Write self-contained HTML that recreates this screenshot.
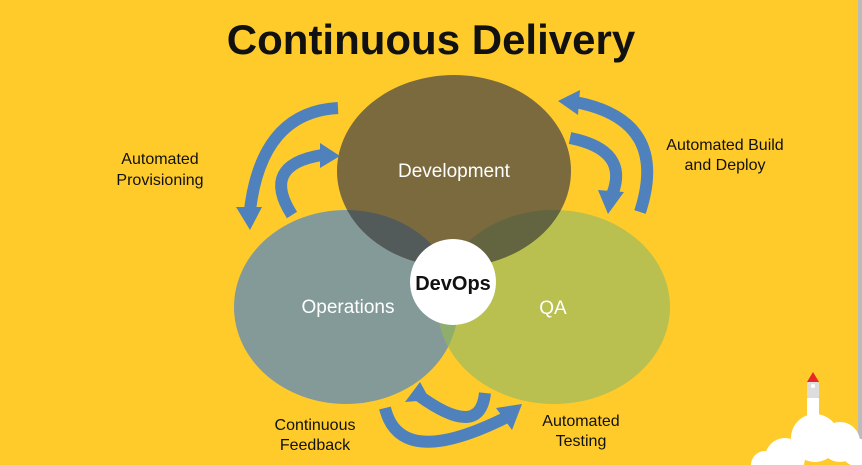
<!DOCTYPE html>
<html><head><meta charset="utf-8"><style>
html,body{margin:0;padding:0;}
body{width:862px;height:465px;overflow:hidden;background:#FFCB2B;position:relative;font-family:"Liberation Sans",sans-serif;}
</style></head><body>
<svg width="862" height="465" viewBox="0 0 862 465" style="position:absolute;left:0;top:0">
<defs>
<clipPath id="cO"><ellipse cx="346" cy="307" rx="112" ry="97"/></clipPath>
<clipPath id="cQ"><ellipse cx="554" cy="307" rx="116" ry="97"/></clipPath>
</defs>
<rect x="858" y="0" width="4" height="465" fill="#bbb"/>
<text x="431" y="54" text-anchor="middle" font-size="42" font-weight="bold" fill="#111" font-family="Liberation Sans, sans-serif">Continuous Delivery</text>

<ellipse cx="346" cy="307" rx="112" ry="97" fill="#839a98"/>
<ellipse cx="554" cy="307" rx="116" ry="97" fill="#b9c04f"/>
<ellipse cx="554" cy="307" rx="116" ry="97" fill="#8fae6e" clip-path="url(#cO)"/>
<ellipse cx="454" cy="171" rx="117" ry="96" fill="#7a6a3e"/>
<ellipse cx="454" cy="171" rx="117" ry="96" fill="#535a5a" clip-path="url(#cO)"/>
<ellipse cx="454" cy="171" rx="117" ry="96" fill="#62653f" clip-path="url(#cQ)"/>
<circle cx="453" cy="282" r="43" fill="#fff"/>

<g fill="none" stroke="#4f81bd" stroke-width="12">
<path d="M338 108 Q262 112 250 210"/>
<path d="M292 215 Q260 165 322 155"/>
<path d="M640 212 Q670 120 575 102"/>
<path d="M570 138 Q630 150 612 195"/>
<path d="M385 408 Q400 470 505 418"/>
<path d="M485 393 Q480 440 418 395"/>
</g>
<g fill="#4f81bd">
<polygon points="236,207 262,207 250,230"/>
<polygon points="320,143 340,156 320,168"/>
<polygon points="580,90 558,101 578,115"/>
<polygon points="598,190 624,192 608,214"/>
<polygon points="496,408 522,404 512,430"/>
<polygon points="405,402 420,382 430,400"/>
</g>

<g font-family="Liberation Sans, sans-serif" fill="#fff" font-size="19" text-anchor="middle">
<text x="454" y="177">Development</text>
<text x="348" y="313">Operations</text>
<text x="553" y="314">QA</text>
</g>
<text x="453" y="290" text-anchor="middle" font-size="20" font-weight="bold" fill="#111">DevOps</text>
<g font-size="16" fill="#111" text-anchor="middle">
<text x="160" y="164">Automated</text>
<text x="160" y="185">Provisioning</text>
<text x="725" y="150">Automated Build</text>
<text x="725" y="170">and Deploy</text>
<text x="315" y="430">Continuous</text>
<text x="315" y="450">Feedback</text>
<text x="581" y="426">Automated</text>
<text x="581" y="446">Testing</text>
</g>

<g fill="#fff">
<circle cx="785" cy="458" r="20"/>
<circle cx="815" cy="438" r="24"/>
<circle cx="840" cy="442" r="20"/>
<circle cx="856" cy="452" r="14"/>
<circle cx="765" cy="465" r="14"/>
<rect x="807" y="398" width="12" height="40"/>
</g>
<polygon points="813,372 807,382 819,382" fill="#e8262b"/>
<rect x="807" y="382" width="12" height="16" rx="2" fill="#ddd"/>
<circle cx="813" cy="386" r="2" fill="#fff"/>
</svg>
</body></html>
